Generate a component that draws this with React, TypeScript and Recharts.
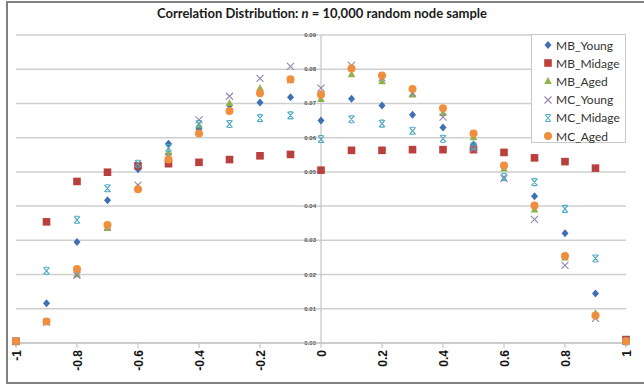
import { ScatterChart, Scatter, XAxis, YAxis, CartesianGrid, ReferenceLine } from 'recharts'

// #region Data
const xValues = [-1, -0.9, -0.8, -0.7, -0.6, -0.5, -0.4, -0.3, -0.2, -0.1, 0, 0.1, 0.2, 0.3, 0.4, 0.5, 0.6, 0.7, 0.8, 0.9, 1]

const mbYoung = [0.0005, 0.0116, 0.0295, 0.0417, 0.0508, 0.0582, 0.0625, 0.0695, 0.0703, 0.0718, 0.065, 0.0714, 0.0694, 0.0667, 0.063, 0.058, 0.0515, 0.0429, 0.0321, 0.0145, 0.0005]
const mbMidage = [0.0005, 0.0354, 0.0472, 0.0499, 0.0518, 0.0524, 0.0528, 0.0536, 0.0547, 0.0551, 0.0505, 0.0563, 0.0563, 0.0565, 0.0565, 0.0565, 0.0557, 0.0541, 0.053, 0.0511, 0.001]
const mbAged = [0.0005, 0.0062, 0.0201, 0.0336, 0.0455, 0.0557, 0.0636, 0.0701, 0.0745, 0.0768, 0.0713, 0.0785, 0.0765, 0.0726, 0.0672, 0.0601, 0.051, 0.039, 0.025, 0.0087, 0.0005]
const mcYoung = [0.0005, 0.006, 0.0198, 0.034, 0.0461, 0.0545, 0.0652, 0.0721, 0.0773, 0.0808, 0.0745, 0.0811, 0.0775, 0.073, 0.066, 0.0567, 0.048, 0.0361, 0.0227, 0.0072, 0.0005]
const mcMidage = [0.0005, 0.0211, 0.036, 0.0452, 0.0524, 0.057, 0.064, 0.064, 0.0657, 0.0665, 0.0596, 0.0654, 0.0641, 0.062, 0.0597, 0.0575, 0.0485, 0.047, 0.0392, 0.0247, 0.0005]
const mcAged = [0.0005, 0.0063, 0.0216, 0.0345, 0.0449, 0.0536, 0.0612, 0.0678, 0.073, 0.0771, 0.0726, 0.0802, 0.0782, 0.0742, 0.0686, 0.0612, 0.0519, 0.0402, 0.0254, 0.008, 0.0005]

const xTicks = [-1, -0.8, -0.6, -0.4, -0.2, 0, 0.2, 0.4, 0.6, 0.8, 1]
const yTicks = [0, 0.01, 0.02, 0.03, 0.04, 0.05, 0.06, 0.07, 0.08, 0.09]
// #endregion

const W = 644
const H = 387
const margin = { top: 35, right: 18, bottom: 0, left: 16 }

type Kind = 'diamond' | 'square' | 'triangle' | 'x' | 'star' | 'circle'

const series: { name: string; values: number[]; color: string; kind: Kind }[] = [
  { name: 'MB_Young', values: mbYoung, color: '#3f6fb5', kind: 'diamond' },
  { name: 'MB_Midage', values: mbMidage, color: '#b9403d', kind: 'square' },
  { name: 'MB_Aged', values: mbAged, color: '#8fb24c', kind: 'triangle' },
  { name: 'MC_Young', values: mcYoung, color: '#9485ad', kind: 'x' },
  { name: 'MC_Midage', values: mcMidage, color: '#4aa8c2', kind: 'star' },
  { name: 'MC_Aged', values: mcAged, color: '#ef8e3c', kind: 'circle' },
]

// draws one marker centred on (cx, cy)
const marker = (kind: Kind, color: string, cx: number, cy: number) => {
  switch (kind) {
    case 'diamond':
      return <path d={`M${cx},${cy - 4}L${cx + 3.5},${cy}L${cx},${cy + 4}L${cx - 3.5},${cy}Z`} fill={color} />
    case 'square':
      return <rect x={cx - 3.8} y={cy - 3.8} width={7.6} height={7.6} fill={color} />
    case 'triangle':
      return <path d={`M${cx},${cy - 4}L${cx + 3.8},${cy + 3}L${cx - 3.8},${cy + 3}Z`} fill={color} />
    case 'x':
      return (
        <path d={`M${cx - 3.5},${cy - 3.5}L${cx + 3.5},${cy + 3.5}M${cx + 3.5},${cy - 3.5}L${cx - 3.5},${cy + 3.5}`}
          stroke={color} strokeWidth={1.1} fill="none" />
      )
    case 'star':
      return (
        <path
          d={`M${cx - 3},${cy - 3.5}L${cx + 3},${cy + 3.5}M${cx + 3},${cy - 3.5}L${cx - 3},${cy + 3.5}M${cx - 2},${cy - 3.5}L${cx + 2},${cy - 3.5}M${cx - 2},${cy + 3.5}L${cx + 2},${cy + 3.5}`}
          stroke={color} strokeWidth={1.1} fill="none" />
      )
    default:
      return <circle cx={cx} cy={cy} r={4} fill={color} />
  }
}

const makeShape = (kind: Kind, color: string) => (props: any) => marker(kind, color, props.cx, props.cy)

const XTick = ({ x, y, payload }: any) => (
  <g transform={`translate(${x},${y})`}>
    <text transform="rotate(-90)" textAnchor="end" dy={4.5} fontSize={12} fontWeight={700}
      fontFamily="'Liberation Sans', Arial, sans-serif" fill="#111">
      {String(Math.round(payload.value * 10) / 10)}
    </text>
  </g>
)

// y labels sit beside the vertical axis at x = 0, so they hang off invisible reference lines
const YLabel = ({ viewBox, value }: any) => (
  <text x={viewBox.x + viewBox.width / 2 - 5} y={viewBox.y} dy={2} textAnchor="end" fontSize={6} fontWeight={700}
    fontFamily="'Liberation Sans', Arial, sans-serif" fill="#555">
    {value.toFixed(2)}
  </text>
)

export default function App() {
  return (
    <div style={{ position: 'absolute', left: 0, top: 0, width: W, height: H, background: '#fff', overflow: 'hidden' }}>
      <div
        style={{
          position: 'absolute', left: 6, top: 1, width: W - 6, height: H - 4,
          borderLeft: '2px solid #808080', borderTop: '2px solid #808080', borderBottom: '2px solid #808080',
          boxSizing: 'border-box',
        }}
      />
      <div
        style={{
          position: 'absolute', left: 0, top: 5, width: W, textAlign: 'center',
          fontFamily: 'Lato, sans-serif', fontWeight: 700, fontSize: 13, color: '#1a1a1a',
        }}
      >
        Correlation Distribution: <i>n</i> = 10,000 random node sample
      </div>
      <ScatterChart width={W} height={H} margin={margin} style={{ position: 'absolute', left: 0, top: 0 }}>
        <CartesianGrid horizontal vertical={false} stroke="#cfcfcf" strokeWidth={1.5} />
        <XAxis
          type="number"
          dataKey="x"
          domain={[-1, 1]}
          ticks={xTicks}
          interval={0}
          height={44}
          stroke="#bdbdbd"
          tickSize={5}
          tickMargin={2}
          tick={<XTick />}
        />
        <YAxis type="number" dataKey="y" domain={[0, 0.09]} ticks={yTicks} interval={0} width={0} hide />
        <ReferenceLine x={0} stroke="#c4c4c4" strokeWidth={1.2} />
        {yTicks.map((v) => (
          <ReferenceLine key={v} y={v} stroke="none" label={<YLabel value={v} />} />
        ))}
        {series.map((s) => (
          <Scatter
            key={s.name}
            name={s.name}
            data={xValues.map((x, i) => ({ x, y: s.values[i] }))}
            shape={makeShape(s.kind, s.color)}
            isAnimationActive={false}
          />
        ))}
      </ScatterChart>
      <div
        style={{
          position: 'absolute', left: 531, top: 34, width: 95, height: 109, boxSizing: 'border-box',
          background: '#fff', border: '1px solid #c8c8c8', paddingTop: 1,
        }}
      >
        {series.map((s) => (
          <div key={s.name} style={{ display: 'flex', alignItems: 'center', height: 18.2, paddingLeft: 11 }}>
            <svg width={10} height={10} style={{ marginRight: 3 }}>
              {marker(s.kind, s.color, 5, 5)}
            </svg>
            <span style={{ fontFamily: 'Lato, sans-serif', fontSize: 12, color: '#333' }}>{s.name}</span>
          </div>
        ))}
      </div>
    </div>
  )
}
